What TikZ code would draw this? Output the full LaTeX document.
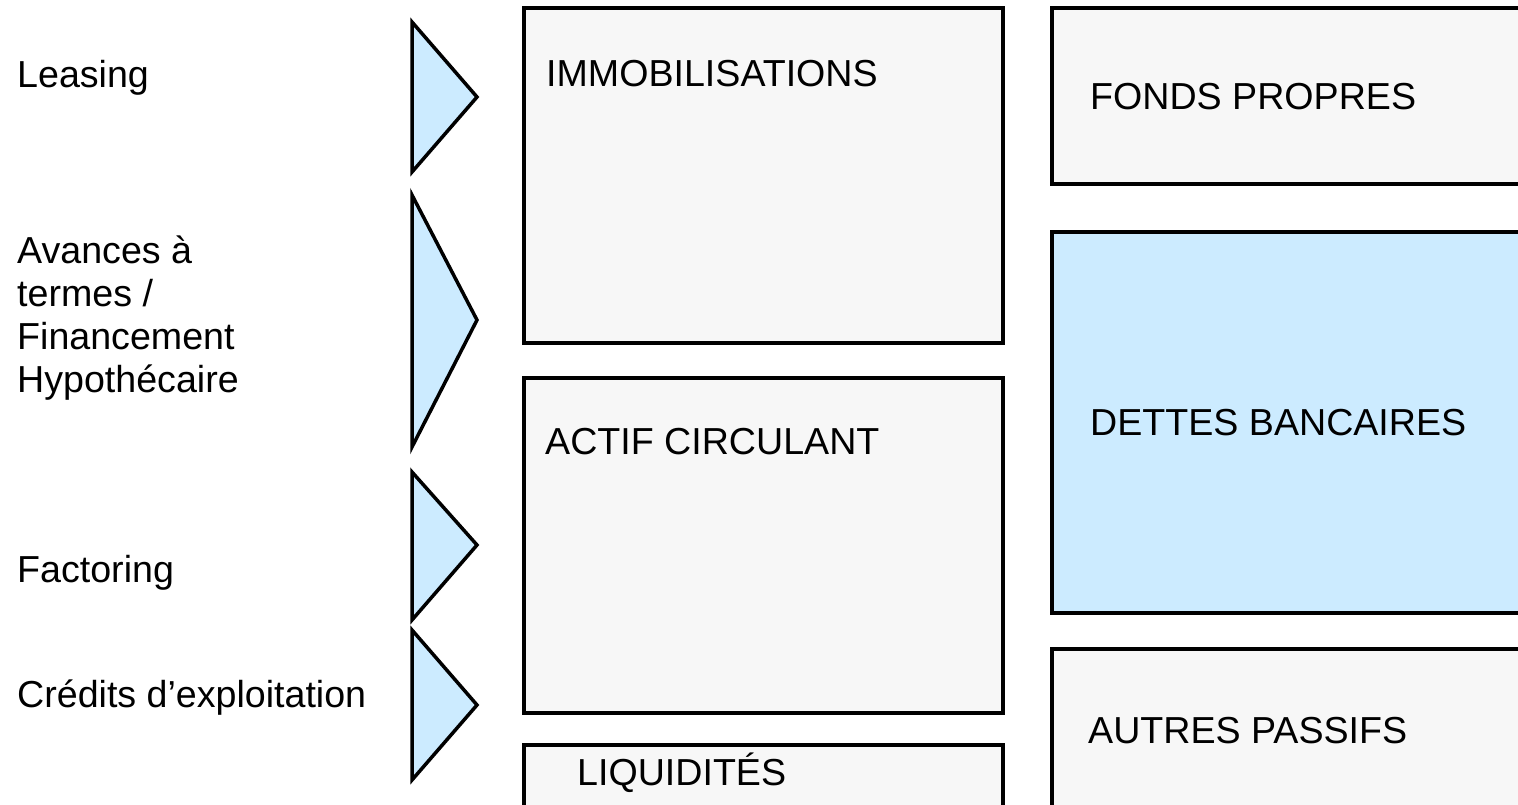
\documentclass[tikz,border=0pt]{standalone}
\usepackage{fontspec}
\setmainfont{Liberation Sans}
\definecolor{paleblue}{HTML}{CCEBFF}
\definecolor{panelgrey}{HTML}{F7F7F7}
\begin{document}
\begin{tikzpicture}[x=1pt,y=-1pt,
  panel/.style={draw=black,line width=3.5pt,fill=panelgrey},
  bluepanel/.style={draw=black,line width=3.5pt,fill=paleblue},
  wedge/.style={draw=black,line width=3.5pt,fill=paleblue,line join=miter},
  lbl/.style={inner sep=0pt,anchor=base west,align=left,
    font=\fontsize{37.6}{43}\selectfont}]
\clip (0,0) rectangle (1518,805);
\fill[white] (0,0) rectangle (1518,805);

% balance sheet blocks: assets
\draw[panel] (524,8) rectangle (1003,343);
\draw[panel] (524,378) rectangle (1003,713);
\draw[panel] (524,745) rectangle (1003,850);
% balance sheet blocks: liabilities
\draw[panel] (1052,8) rectangle (1570,184);
\draw[bluepanel] (1052,232) rectangle (1570,613);
\draw[panel] (1052,649) rectangle (1570,850);

% financing wedges
\draw[wedge] (412,22) -- (477,97) -- (412,172) -- cycle;
\draw[wedge] (412,195) -- (477,320) -- (412,447) -- cycle;
\draw[wedge] (412,472) -- (477,545) -- (412,620) -- cycle;
\draw[wedge] (412,630) -- (477,705) -- (412,780) -- cycle;

% financing products (multi-line label is placed by its last baseline)
\node[lbl] (leasing) at (17,88) {Leasing};
\node[lbl] (avances) at (17,392) {Avances à\\termes /\\Financement\\Hypothécaire};
\node[lbl] (factoring) at (17,582) {Factoring};
\node[lbl] (credits) at (17,707) {Crédits d’exploitation};

% block titles
\node[lbl] (immo) at (546,87) {IMMOBILISATIONS};
\node[lbl] (actif) at (545,454) {ACTIF CIRCULANT};
\node[lbl] (liq) at (577,785) {LIQUIDITÉS};
\node[lbl] (fonds) at (1090,110) {FONDS PROPRES};
\node[lbl] (dettes) at (1090,435) {DETTES BANCAIRES};
\node[lbl] (autres) at (1088,743) {AUTRES PASSIFS};
\end{tikzpicture}
\end{document}
